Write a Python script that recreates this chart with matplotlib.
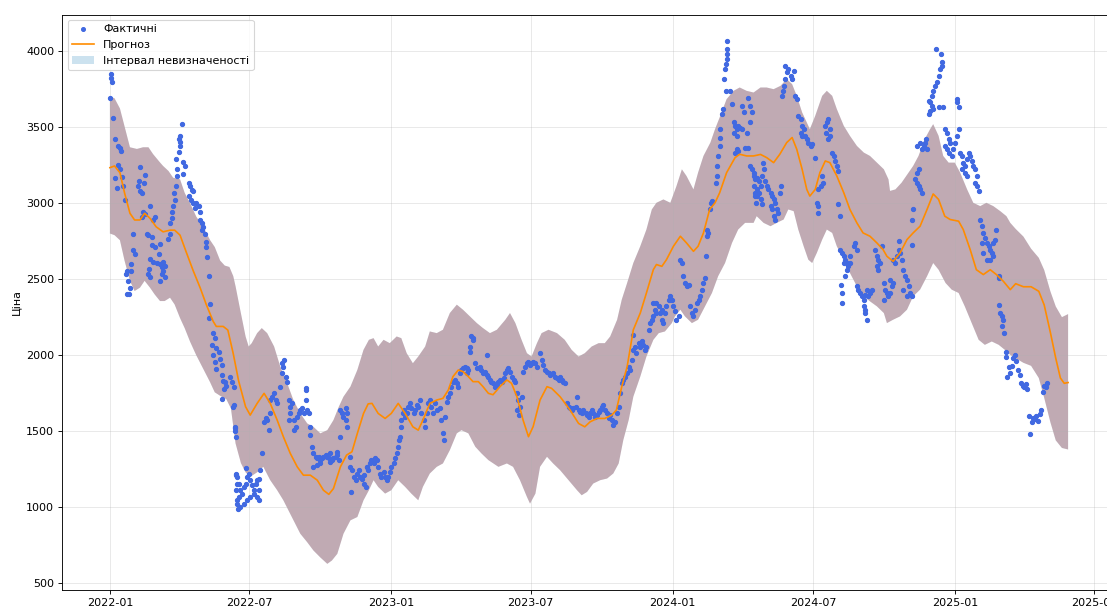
import numpy as np
import pandas as pd
import matplotlib
matplotlib.use("Agg")
import matplotlib.pyplot as plt
import matplotlib.dates as mdates
from matplotlib.patches import Patch
from matplotlib.lines import Line2D

# Початкова дата, від якої рахуються дні
START = pd.Timestamp("2022-01-01")

# Фактичні значення (день від початку, ціна), по відрізках
fact_2022_h1 = [
    (0, 3693), (1, 3822), (2, 3849), (3, 3796), (4, 3560), (6, 3422), (11, 3378), (13, 3360),
    (15, 3344), (11, 3249), (13, 3222), (7, 3167), (9, 3100), (17, 3111), (19, 3022), (16, 3173),
    (30, 2800), (30, 2689), (32, 2667), (28, 2600), (27, 2556), (22, 2556), (21, 2533), (23, 2489),
    (26, 2444), (25, 2400), (22, 2400), (39, 3240), (38, 3144), (37, 3111), (39, 3078), (41, 3067),
    (45, 3182), (44, 3129), (43, 2944), (45, 2929), (42, 2911), (52, 2978), (58, 2911), (56, 2889),
    (48, 2800), (50, 2789), (54, 2778), (54, 2722), (58, 2711), (65, 2733), (64, 2667), (52, 2633),
    (56, 2611), (61, 2604), (65, 2600), (67, 2582), (69, 2611), (71, 2589), (69, 2556), (67, 2533),
    (71, 2511), (65, 2489), (50, 2533), (52, 2511), (51, 2567), (78, 2800), (78, 2867), (80, 2900),
    (81, 2944), (76, 2767), (82, 2978), (84, 3022), (83, 3067), (86, 3111), (87, 3178), (87, 3222),
    (86, 3289), (89, 3333), (91, 3378), (91, 3400), (93, 3522), (91, 3444), (90, 3422), (95, 3267),
    (97, 3244), (95, 3189), (102, 3133), (104, 3111), (106, 3089), (108, 3078), (103, 3044),
    (105, 3022), (108, 3000), (112, 3000), (115, 2978), (110, 2967), (117, 2944), (117, 2889),
    (119, 2867), (121, 2844), (119, 2822), (123, 2800), (125, 2744), (125, 2711), (126, 2644),
    (128, 2522), (130, 2338), (128, 2244), (134, 2144), (136, 2111), (132, 2067), (138, 2044),
    (141, 2022), (134, 2000), (143, 1978), (136, 1956), (145, 1933), (138, 1911), (145, 1867),
    (147, 1833), (149, 1822), (151, 1800), (148, 1778), (146, 1711), (160, 1656), (162, 1522),
    (162, 1500), (164, 1211), (165, 1156), (164, 1111), (167, 1067), (165, 1022), (166, 990),
]

fact_2022_h2 = [
    (156, 1859), (158, 1826), (161, 1793), (161, 1672), (162, 1530), (163, 1464), (163, 1222),
    (165, 1200), (167, 1156), (169, 1112), (171, 1090), (174, 1134), (176, 1156), (178, 1200),
    (180, 1222), (182, 1178), (184, 1145), (187, 1112), (189, 1156), (191, 1178), (193, 1189),
    (195, 1244), (193, 1112), (191, 1068), (187, 1090), (182, 1068), (178, 1046), (174, 1024),
    (169, 1002), (193, 1046), (176, 1255), (165, 1046), (197, 1354), (200, 1563), (202, 1584),
    (204, 1573), (206, 1508), (208, 1617), (208, 1705), (210, 1727), (213, 1749), (215, 1705),
    (217, 1683), (221, 1793), (223, 1881), (223, 1947), (226, 1969), (225, 1925), (228, 1859),
    (230, 1826), (232, 1705), (234, 1661), (236, 1683), (234, 1617), (232, 1573), (239, 1573),
    (239, 1507), (241, 1529), (243, 1595), (245, 1617), (247, 1639), (249, 1650), (252, 1617),
    (254, 1705), (256, 1639), (258, 1617), (254, 1782), (255, 1771), (260, 1475), (259, 1530),
    (262, 1398), (264, 1354), (267, 1332), (269, 1321), (271, 1332), (273, 1310), (275, 1321),
    (277, 1332), (280, 1343), (282, 1332), (284, 1321), (286, 1299), (288, 1310), (290, 1321),
    (293, 1332), (295, 1343), (297, 1310), (264, 1266), (269, 1277), (273, 1288), (286, 1354),
    (295, 1365), (299, 1639), (301, 1617), (303, 1595), (306, 1573), (308, 1617), (306, 1650),
    (308, 1530), (299, 1464), (312, 1266), (314, 1244), (316, 1200), (319, 1178), (321, 1222),
    (323, 1244), (325, 1200), (327, 1189), (329, 1156), (332, 1134), (329, 1211), (334, 1266),
    (312, 1332), (313, 1101),
]

fact_2023_h1 = [
    (333, 1266), (335, 1244), (337, 1288), (339, 1310), (342, 1288), (344, 1321), (346, 1310),
    (348, 1266), (350, 1222), (352, 1200), (355, 1233), (357, 1200), (359, 1178), (361, 1200),
    (363, 1233), (365, 1266), (368, 1288), (370, 1321), (372, 1354), (374, 1398), (375, 1442),
    (376, 1464), (378, 1530), (378, 1574), (380, 1617), (381, 1639), (383, 1595), (385, 1617),
    (387, 1661), (389, 1683), (391, 1650), (394, 1617), (396, 1639), (398, 1672), (400, 1661),
    (402, 1705), (404, 1617), (407, 1573), (409, 1530), (411, 1617), (413, 1683), (415, 1705),
    (417, 1661), (419, 1617), (422, 1683), (424, 1639), (428, 1650), (430, 1574), (432, 1486),
    (433, 1442), (435, 1595), (437, 1694), (439, 1727), (441, 1749), (443, 1793), (445, 1826),
    (448, 1837), (450, 1815), (452, 1793), (454, 1881), (456, 1903), (458, 1914), (461, 1925),
    (463, 1914), (465, 1903), (463, 1881), (469, 2123), (471, 2101), (471, 2112), (467, 2024),
    (474, 1947), (467, 2057), (476, 1914), (480, 1925), (482, 1903), (484, 1881), (487, 1892),
    (489, 1870), (491, 1859), (493, 1837), (495, 1826), (497, 1815), (500, 1793), (502, 1804),
    (504, 1826), (506, 1837), (489, 2002),
]

fact_2023_h2 = [
    (508, 1826), (511, 1848), (513, 1881), (515, 1903), (517, 1914), (519, 1892), (521, 1859),
    (524, 1837), (526, 1826), (528, 1749), (530, 1705), (532, 1661), (534, 1727), (528, 1639),
    (531, 1606), (536, 1892), (539, 1925), (541, 1947), (543, 1958), (545, 1936), (547, 1947),
    (549, 1958), (552, 1947), (554, 1925), (558, 2013), (560, 1969), (562, 1936), (565, 1903),
    (567, 1892), (569, 1881), (571, 1870), (575, 1881), (578, 1859), (580, 1848), (582, 1837),
    (584, 1859), (586, 1837), (588, 1826), (591, 1815), (593, 1683), (595, 1661), (597, 1650),
    (599, 1639), (601, 1650), (604, 1661), (606, 1727), (608, 1639), (610, 1628), (612, 1617),
    (614, 1639), (617, 1617), (619, 1606), (621, 1595), (623, 1617), (625, 1639), (627, 1617),
    (629, 1591), (632, 1606), (634, 1628), (636, 1639), (638, 1661), (640, 1672), (642, 1639),
    (645, 1617), (647, 1584), (649, 1606), (651, 1573), (653, 1540), (655, 1562), (658, 1617),
    (660, 1661), (662, 1749), (664, 1815), (666, 1837), (668, 1859), (671, 1881), (673, 1925),
]

fact_2024_h1 = [
    (675, 1903), (677, 1969), (679, 2035), (681, 2057), (683, 2013), (686, 2079), (688, 2057),
    (690, 2090), (692, 2068), (694, 2035), (696, 2057), (678, 2134), (699, 2167), (701, 2211),
    (703, 2233), (705, 2255), (707, 2299), (709, 2343), (712, 2321), (714, 2277), (716, 2233),
    (718, 2211), (720, 2277), (722, 2321), (725, 2365), (727, 2387), (729, 2365), (731, 2321),
    (733, 2288), (735, 2233), (738, 2255), (705, 2343), (709, 2277), (716, 2299), (740, 2628),
    (742, 2606), (744, 2519), (746, 2475), (748, 2453), (751, 2464), (753, 2321), (755, 2277),
    (757, 2255), (759, 2299), (761, 2343), (764, 2365), (766, 2387), (768, 2431), (770, 2475),
    (772, 2508), (773, 2650), (775, 2826), (776, 2804), (775, 2782), (778, 2958), (780, 3002),
    (781, 3013), (786, 3134), (787, 3178), (788, 3244), (789, 3310), (791, 3376), (792, 3431),
    (792, 3486), (794, 3585), (795, 3618), (799, 3738), (796, 3815), (798, 3881), (799, 3914),
    (800, 3947), (801, 3980), (800, 4013), (801, 4068), (805, 3738), (807, 3650), (809, 3530),
    (811, 3508), (813, 3486), (815, 3508), (818, 3497), (820, 3486), (809, 3464), (813, 3442),
    (826, 3464), (813, 3354), (815, 3343), (811, 3332), (824, 3365), (828, 3365), (820, 3640),
    (822, 3596), (828, 3694), (831, 3244), (833, 3222), (835, 3200), (837, 3156), (835, 3112),
    (837, 3068), (839, 3046), (838, 3002), (835, 3178),
]

fact_2024_h2 = [
    (831, 3640), (833, 3596), (831, 3530), (839, 3167), (842, 3145), (844, 3112), (846, 3178),
    (848, 3222), (847, 3266), (839, 3090), (842, 3068), (837, 3046), (844, 3024), (846, 2991),
    (850, 3145), (852, 3112), (854, 3090), (857, 3068), (859, 3046), (861, 3024), (863, 3002),
    (865, 2958), (867, 2936), (870, 3112), (869, 3068), (857, 2980), (859, 2958), (861, 2914),
    (863, 2892), (872, 3705), (874, 3771), (876, 3815), (878, 3859), (880, 3881), (883, 3837),
    (885, 3815), (887, 3870), (876, 3903), (873, 3738), (889, 3705), (891, 3683), (893, 3574),
    (896, 3552), (898, 3508), (900, 3486), (896, 3464), (898, 3442), (902, 3442), (904, 3420),
    (906, 3398), (909, 3376), (911, 3387), (915, 3299), (917, 3002), (919, 3090), (922, 3112),
    (924, 3178), (925, 3134), (919, 2980), (918, 2936), (928, 3508), (930, 3530), (932, 3552),
    (934, 3486), (934, 3442), (931, 3420), (929, 3464), (937, 3332), (939, 3310), (941, 3277),
    (943, 3244), (944, 3211), (945, 2991), (947, 2914), (947, 2694), (950, 2672), (952, 2650),
    (954, 2628), (956, 2606), (958, 2584), (960, 2650), (956, 2562), (954, 2519), (952, 2606),
    (960, 2606), (965, 2716), (967, 2738), (969, 2694), (948, 2464), (950, 2409), (950, 2343),
    (969, 2453), (971, 2431), (973, 2409), (976, 2387), (978, 2365), (980, 2398), (982, 2431),
    (984, 2387), (986, 2409), (989, 2431), (978, 2321), (980, 2277), (982, 2233), (980, 2299),
    (993, 2694), (995, 2650), (997, 2628), (999, 2606), (997, 2562), (995, 2584), (1002, 2716),
    (1004, 2475), (1006, 2431), (1008, 2409), (1004, 2365), (1010, 2387),
]

fact_2025 = [
    (1012, 2409), (1014, 2453), (1016, 2475), (1012, 2497), (1016, 2628), (1019, 2606),
    (1021, 2650), (1023, 2694), (1025, 2672), (1027, 2628), (1029, 2562), (1032, 2519),
    (1034, 2497), (1036, 2453), (1038, 2409), (1040, 2387), (1029, 2431), (1034, 2387),
    (1023, 2749), (1040, 2727), (1041, 2892), (1042, 2958), (1045, 3156), (1047, 3134),
    (1049, 3112), (1051, 3090), (1053, 3068), (1047, 3200), (1049, 3222), (1047, 3376),
    (1051, 3398), (1054, 3354), (1056, 3376), (1058, 3398), (1059, 3420), (1060, 3354),
    (1062, 3585), (1064, 3607), (1066, 3640), (1064, 3662), (1066, 3705), (1068, 3738),
    (1070, 3771), (1073, 3793), (1075, 3837), (1077, 3881), (1079, 3925), (1078, 3980),
    (1072, 4013), (1079, 3903), (1062, 3672), (1068, 3618), (1075, 3629), (1081, 3629),
    (1083, 3486), (1086, 3464), (1088, 3420), (1090, 3398), (1083, 3376), (1086, 3354),
    (1088, 3332), (1092, 3310), (1094, 3354), (1096, 3398), (1099, 3442), (1101, 3486),
    (1099, 3662), (1099, 3683), (1101, 3629), (1103, 3332), (1105, 3310), (1107, 3266),
    (1109, 3244), (1112, 3288), (1114, 3332), (1116, 3310), (1118, 3277), (1120, 3244),
    (1122, 3222), (1125, 3178), (1122, 3134), (1125, 3112), (1127, 3079), (1105, 3222),
    (1109, 3200), (1112, 3178), (1129, 2892), (1131, 2848), (1133, 2804), (1135, 2771),
    (1138, 2738), (1140, 2716), (1142, 2694), (1144, 2672), (1146, 2738), (1148, 2760),
    (1150, 2826), (1146, 2650), (1142, 2628), (1138, 2628), (1133, 2672), (1131, 2738),
    (1153, 2519), (1154, 2508), (1153, 2332), (1155, 2277), (1157, 2255), (1159, 2233),
    (1157, 2189), (1160, 2145), (1163, 2024), (1163, 1991), (1166, 1925), (1167, 1881),
    (1164, 1859), (1170, 1930), (1172, 1980), (1174, 2000), (1176, 1960), (1178, 1900),
    (1180, 1870), (1182, 1820), (1184, 1800), (1186, 1790), (1188, 1810), (1190, 1780),
    (1192, 1600), (1194, 1480), (1196, 1560), (1198, 1590), (1200, 1580), (1202, 1600),
    (1204, 1570), (1206, 1610), (1208, 1640), (1210, 1760), (1212, 1800), (1214, 1790),
    (1216, 1820),
]

# Прогноз (yhat)
yhat_days = [0, 6, 13, 19, 26, 32, 39, 45, 52, 60, 69, 78, 84, 91, 99, 108, 117, 125, 134, 138,
             147, 153, 160, 167, 176, 182, 191, 200, 208, 217, 225, 234, 243, 251, 260, 269, 277,
             284, 290, 299, 307, 314, 321, 329, 335, 340, 348, 357, 365, 374, 383, 393, 400, 406,
             415, 424, 432, 439, 445, 452, 458, 465, 471, 478, 484, 491, 497, 506, 515, 521, 528,
             536, 543, 549, 558, 567, 573, 584, 597, 608, 616, 623, 632, 642, 651, 657, 664, 671,
             679, 688, 696, 705, 709, 716, 722, 731, 740, 748, 757, 763, 770, 778, 785, 791, 800,
             811, 817, 826, 835, 844, 852, 861, 869, 878, 885, 891, 898, 904, 908, 915, 921, 928,
             934, 943, 952, 960, 969, 977, 986, 995, 1003, 1008, 1016, 1025, 1034, 1042, 1051,
             1060, 1068, 1075, 1083, 1090, 1101, 1107, 1116, 1124, 1133, 1142, 1150, 1159, 1168,
             1175, 1185, 1195, 1205, 1212, 1220, 1227, 1233, 1238, 1243]
yhat_vals = [3233, 3244, 3200, 3067, 2933, 2889, 2889, 2933, 2900, 2844, 2811, 2822, 2822, 2789,
             2678, 2556, 2444, 2333, 2222, 2189, 2189, 2165, 2010, 1830, 1661, 1606, 1683, 1749,
             1683, 1573, 1464, 1354, 1266, 1211, 1211, 1178, 1112, 1085, 1123, 1266, 1343, 1365,
             1486, 1617, 1680, 1683, 1617, 1584, 1617, 1683, 1617, 1529, 1507, 1573, 1683, 1705,
             1716, 1771, 1859, 1903, 1892, 1859, 1826, 1826, 1793, 1749, 1740, 1793, 1837, 1815,
             1727, 1573, 1464, 1530, 1705, 1793, 1782, 1727, 1639, 1551, 1529, 1562, 1584, 1584,
             1606, 1639, 1793, 1925, 2167, 2277, 2409, 2563, 2596, 2584, 2628, 2716, 2782, 2738,
             2683, 2716, 2804, 2958, 3002, 3068, 3200, 3299, 3321, 3310, 3310, 3320, 3299, 3266,
             3321, 3398, 3431, 3354, 3222, 3090, 3046, 3090, 3200, 3277, 3266, 3178, 3068, 2958,
             2870, 2804, 2782, 2738, 2694, 2650, 2617, 2672, 2760, 2804, 2848, 2958, 3060, 3024,
             2914, 2892, 2881, 2826, 2694, 2562, 2530, 2562, 2530, 2486, 2431, 2470, 2450, 2450,
             2420, 2330, 2150, 1980, 1850, 1815, 1820]

# Верхня межа інтервалу
upper_days = [0, 6, 13, 26, 35, 43, 50, 56, 65, 69, 76, 82, 91, 97, 104, 112, 121, 130, 136, 143,
              149, 155, 160, 163, 169, 176, 180, 184, 191, 197, 204, 213, 221, 230, 238, 247, 256,
              264, 273, 282, 290, 297, 303, 312, 321, 329, 336, 342, 348, 355, 363, 372, 378, 385,
              393, 400, 409, 415, 424, 432, 441, 450, 458, 467, 476, 484, 493, 502, 513, 519, 526,
              534, 541, 547, 554, 560, 569, 580, 590, 599, 608, 616, 625, 634, 642, 649, 658, 664,
              671, 679, 688, 696, 703, 709, 718, 727, 735, 742, 748, 757, 763, 770, 779, 785, 791,
              800, 809, 817, 826, 835, 844, 852, 861, 870, 878, 885, 891, 898, 904, 908, 915, 924,
              930, 937, 943, 952, 960, 969, 978, 986, 995, 1004, 1010, 1012, 1019, 1027, 1036,
              1042, 1049, 1057, 1064, 1068, 1075, 1081, 1088, 1096, 1103, 1112, 1120, 1129, 1137,
              1146, 1155, 1163, 1168, 1175, 1185, 1195, 1205, 1212, 1220, 1227, 1235, 1243]
upper_vals = [3700, 3689, 3622, 3367, 3356, 3367, 3367, 3322, 3267, 3244, 3211, 3167, 3156, 3067,
              3000, 2911, 2844, 2756, 2711, 2622, 2589, 2580, 2520, 2453, 2299, 2123, 2057, 2079,
              2145, 2178, 2145, 2057, 1925, 1815, 1705, 1617, 1551, 1529, 1486, 1507, 1573, 1661,
              1727, 1793, 1903, 2035, 2101, 2112, 2057, 2101, 2079, 2123, 2112, 2013, 1947, 1991,
              2057, 2156, 2145, 2167, 2277, 2332, 2299, 2255, 2211, 2178, 2145, 2167, 2233, 2277,
              2211, 2101, 2013, 1991, 2079, 2145, 2167, 2145, 2101, 2035, 1991, 2013, 2057, 2079,
              2079, 2123, 2233, 2365, 2475, 2606, 2716, 2826, 2958, 3002, 3024, 3002, 3112, 3222,
              3178, 3090, 3200, 3310, 3398, 3486, 3563, 3683, 3738, 3760, 3738, 3727, 3760, 3760,
              3749, 3771, 3815, 3782, 3705, 3596, 3530, 3486, 3574, 3705, 3738, 3705, 3618, 3508,
              3442, 3376, 3332, 3310, 3266, 3222, 3156, 3080, 3090, 3134, 3200, 3244, 3310, 3420,
              3486, 3519, 3442, 3310, 3266, 3266, 3200, 3090, 3002, 2980, 3002, 2980, 2947, 2914,
              2870, 2830, 2780, 2700, 2640, 2560, 2420, 2320, 2250, 2270]

# Нижня межа інтервалу
lower_days = [0, 6, 13, 19, 26, 32, 39, 45, 52, 58, 65, 71, 78, 84, 91, 97, 104, 112, 121, 130,
              136, 143, 151, 157, 163, 170, 176, 182, 191, 199, 208, 217, 225, 236, 247, 256, 264,
              273, 282, 288, 295, 303, 312, 321, 329, 336, 342, 348, 357, 365, 374, 383, 391, 400,
              406, 415, 424, 432, 441, 450, 456, 465, 474, 482, 491, 504, 515, 523, 532, 541, 545,
              552, 558, 567, 575, 584, 595, 606, 612, 619, 627, 636, 645, 653, 660, 666, 673, 679,
              688, 696, 705, 712, 720, 729, 733, 740, 746, 755, 763, 772, 781, 789, 798, 807, 815,
              824, 835, 839, 848, 857, 865, 874, 880, 887, 893, 900, 906, 911, 917, 924, 930, 937,
              943, 952, 960, 969, 978, 986, 995, 1004, 1008, 1016, 1025, 1034, 1042, 1051, 1060,
              1068, 1075, 1084, 1092, 1101, 1109, 1118, 1127, 1135, 1144, 1153, 1161, 1168, 1175,
              1185, 1195, 1205, 1212, 1220, 1227, 1235, 1243]
lower_vals = [2800, 2789, 2756, 2622, 2489, 2422, 2444, 2489, 2444, 2400, 2356, 2356, 2378, 2333,
              2244, 2178, 2089, 2000, 1911, 1822, 1756, 1733, 1711, 1650, 1420, 1290, 1230, 1200,
              1230, 1266, 1178, 1112, 1046, 936, 826, 770, 716, 670, 628, 650, 694, 826, 914, 936,
              1046, 1112, 1178, 1134, 1090, 1112, 1178, 1134, 1090, 1046, 1134, 1222, 1266, 1288,
              1376, 1486, 1507, 1486, 1398, 1354, 1310, 1266, 1288, 1266, 1178, 1068, 1024, 1090,
              1266, 1332, 1288, 1244, 1178, 1112, 1079, 1101, 1156, 1178, 1189, 1222, 1288, 1442,
              1574, 1727, 1859, 1991, 2101, 2145, 2156, 2211, 2255, 2299, 2255, 2211, 2233, 2321,
              2409, 2519, 2606, 2738, 2826, 2870, 2870, 2914, 2870, 2848, 2870, 2892, 2958, 2947,
              2826, 2716, 2628, 2606, 2672, 2760, 2826, 2804, 2716, 2628, 2541, 2453, 2387, 2354,
              2321, 2277, 2211, 2233, 2255, 2299, 2387, 2431, 2519, 2606, 2562, 2475, 2431, 2409,
              2321, 2211, 2101, 2068, 2090, 2068, 2035, 2002, 1980, 1950, 1930, 1850, 1720, 1560,
              1440, 1390, 1380]


def to_dates(days):
    return START + pd.to_timedelta(np.asarray(days), unit="D")


fact = fact_2022_h1 + fact_2022_h2 + fact_2023_h1 + fact_2023_h2 + fact_2024_h1 + fact_2024_h2 + fact_2025
fact_days = [d for d, v in fact]
fact_vals = [v for d, v in fact]

fig = plt.figure(figsize=(1107 / 80, 607 / 80), dpi=80)
# права частина осей виходить за межі кадру, як в оригіналі
ax = fig.add_axes([62 / 1107, 17 / 607, 1054 / 1107, 575.5 / 607])

# Інтервал невизначеності: багатокутник з верхньої і нижньої меж
poly_x = list(to_dates(upper_days)) + list(to_dates(lower_days))[::-1]
poly_y = list(upper_vals) + list(lower_vals)[::-1]
band = ax.fill(poly_x, poly_y, color="#0072B2", alpha=0.2, lw=0, zorder=1)
ax.fill(poly_x, poly_y, color="brown", alpha=0.3, lw=0, zorder=1)

ax.scatter(to_dates(fact_days), fact_vals, s=14, color="royalblue", zorder=2)
ax.plot(to_dates(yhat_days), yhat_vals, color="darkorange", lw=1.5, zorder=3)

ax.xaxis.set_major_locator(mdates.MonthLocator(bymonth=(1, 7)))
ax.xaxis.set_major_formatter(mdates.DateFormatter("%Y-%m"))
ax.set_ylabel("Ціна")
ax.grid(True, alpha=0.3)

handles = [
    Line2D([], [], marker="o", ls="", ms=3.5, color="royalblue"),
    Line2D([], [], color="darkorange", lw=1.5),
    Patch(facecolor="#0072B2", alpha=0.2),
]
ax.legend(handles, ["Фактичні", "Прогноз", "Інтервал невизначеності"], loc="upper left")

fig.savefig("out.png", dpi=80)
